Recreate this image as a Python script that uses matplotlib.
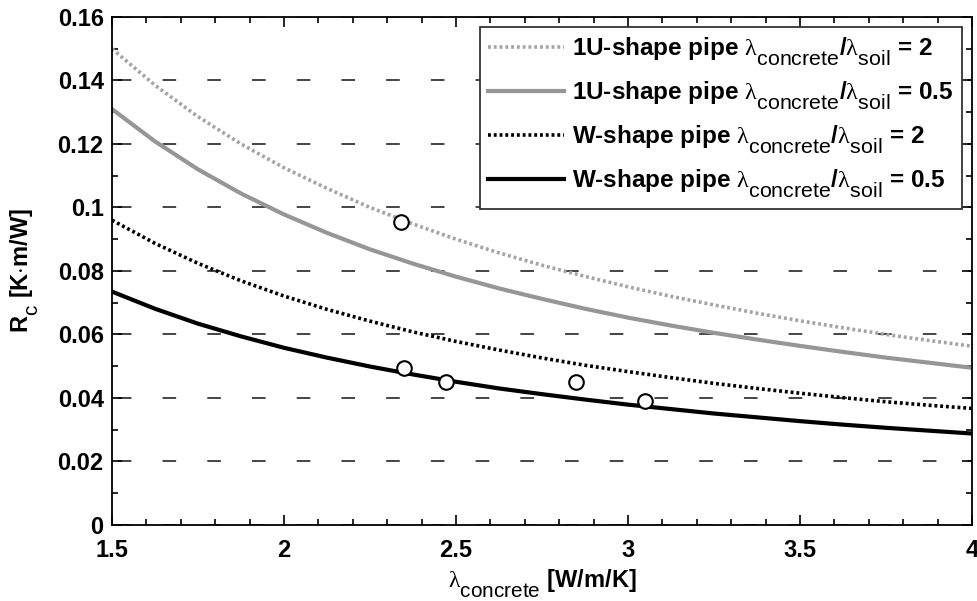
import numpy as np
import matplotlib
matplotlib.use('Agg')
import matplotlib.pyplot as plt
import matplotlib._mathtext as mathtext_mod
from matplotlib.ticker import MultipleLocator, FormatStrFormatter

plt.rcParams['font.family'] = ['Liberation Sans', 'DejaVu Sans']
plt.rcParams['mathtext.fontset'] = 'custom'
plt.rcParams['mathtext.rm'] = 'Liberation Serif'
plt.rcParams['mathtext.sf'] = 'Liberation Sans'
plt.rcParams['mathtext.bf'] = 'Liberation Sans:bold'
# subscripts in the original are almost full size and sit low
mathtext_mod.SHRINK_FACTOR = 0.88
mathtext_mod.FontConstantsBase.sub1 = 0.75
mathtext_mod.FontConstantsBase.sub2 = 0.9

# lambda_concrete [W/m/K]
lam = [1.5, 1.625, 1.75, 1.875, 2.0, 2.125, 2.25, 2.375, 2.5, 2.625, 2.75,
       2.875, 3.0, 3.125, 3.25, 3.375, 3.5, 3.625, 3.75, 3.875, 4.0]

# Rc [K.m/W]
rc_1u_2 = [0.150, 0.1385, 0.1286, 0.1200, 0.1125, 0.1060, 0.1000, 0.0948, 0.0900, 0.0857, 0.0818,
           0.0783, 0.0750, 0.0720, 0.0693, 0.0667, 0.0643, 0.0621, 0.0600, 0.0581, 0.0563]
rc_1u_05 = [0.131, 0.1208, 0.1120, 0.1044, 0.0978, 0.0920, 0.0868, 0.0823, 0.0782, 0.0745, 0.0712,
            0.0681, 0.0653, 0.0628, 0.0605, 0.0584, 0.0564, 0.0545, 0.0527, 0.0511, 0.0495]
rc_w_2 = [0.096, 0.0887, 0.0824, 0.0769, 0.0721, 0.0679, 0.0642, 0.0608, 0.0578, 0.0551, 0.0526,
          0.0503, 0.0483, 0.0464, 0.0446, 0.0430, 0.0415, 0.0401, 0.0388, 0.0377, 0.0367]
rc_w_05 = [0.0735, 0.0681, 0.0634, 0.0594, 0.0558, 0.0527, 0.0499, 0.0474, 0.0451, 0.0430, 0.0412,
           0.0395, 0.0379, 0.0365, 0.0351, 0.0339, 0.0327, 0.0316, 0.0306, 0.0297, 0.0288]

# measured points
meas_x = [2.34, 2.35, 2.47, 2.85, 3.05]
meas_y = [0.0954, 0.0493, 0.0451, 0.0451, 0.0391]

LAM_C = r'$\mathrm{\lambda}_{\mathsf{concrete}}$'
LAM_S = r'$\mathrm{\lambda}_{\mathsf{soil}}$'

fig = plt.figure(figsize=(9.77, 6.01), dpi=100)
ax = fig.add_axes([0.1146, 0.1265, 0.8804, 0.8453])

ax.plot(lam, rc_1u_2, color='#a4a4a4', lw=2.6, ls=(0, (0.8, 0.8)),
        label='1U-shape pipe ' + LAM_C + '/' + LAM_S + ' = 2')
ax.plot(lam, rc_1u_05, color='#969696', lw=3.0, ls='-',
        label='1U-shape pipe ' + LAM_C + '/' + LAM_S + ' = 0.5')
ax.plot(lam, rc_w_2, color='black', lw=2.6, ls=(0, (0.8, 0.8)),
        label='W-shape pipe ' + LAM_C + '/' + LAM_S + ' = 2')
ax.plot(lam, rc_w_05, color='black', lw=3.0, ls='-',
        label='W-shape pipe ' + LAM_C + '/' + LAM_S + ' = 0.5')
ax.plot(meas_x, meas_y, ls='none', marker='o', ms=10.5, mfc='white',
        mec='black', mew=1.5)

ax.set_xlim(1.5, 4)
ax.set_ylim(0, 0.16)
ax.xaxis.set_major_locator(MultipleLocator(0.5))
ax.xaxis.set_minor_locator(MultipleLocator(0.1))
ax.yaxis.set_major_locator(MultipleLocator(0.02))
ax.yaxis.set_minor_locator(MultipleLocator(0.01))
ax.xaxis.set_major_formatter(FormatStrFormatter('%g'))
ax.yaxis.set_major_formatter(FormatStrFormatter('%g'))
ax.tick_params(which='both', direction='in', top=True, right=True, width=1.2)
ax.tick_params(which='major', length=7, labelsize=17)
ax.tick_params(which='minor', length=4)
ax.tick_params(axis='x', pad=10)
ax.tick_params(axis='y', pad=6)
for lab in ax.get_xticklabels() + ax.get_yticklabels():
    lab.set_fontweight('bold')
for sp in ax.spines.values():
    sp.set_linewidth(1.3)

ax.yaxis.grid(True, which='major', color='#444444', lw=1.4, ls=(20, (7, 16)))
ax.set_axisbelow(True)

ax.set_xlabel(LAM_C + ' [W/m/K]', fontsize=17, fontweight='bold', labelpad=4)
ax.set_ylabel(r'R$_{\mathsf{c}}$ [K$\cdot$m/W]', fontsize=17, fontweight='bold', labelpad=12)

leg = ax.legend(loc='upper right', prop={'size': 17.5, 'weight': 'bold'},
                handlelength=3.1, handletextpad=0.35, borderpad=0.35,
                labelspacing=0.48, fancybox=False, framealpha=1,
                edgecolor='#333333', borderaxespad=0,
                bbox_to_anchor=(0.9884, 0.9803))
leg.get_frame().set_linewidth(1.3)

fig.savefig('out.png', dpi=100)
